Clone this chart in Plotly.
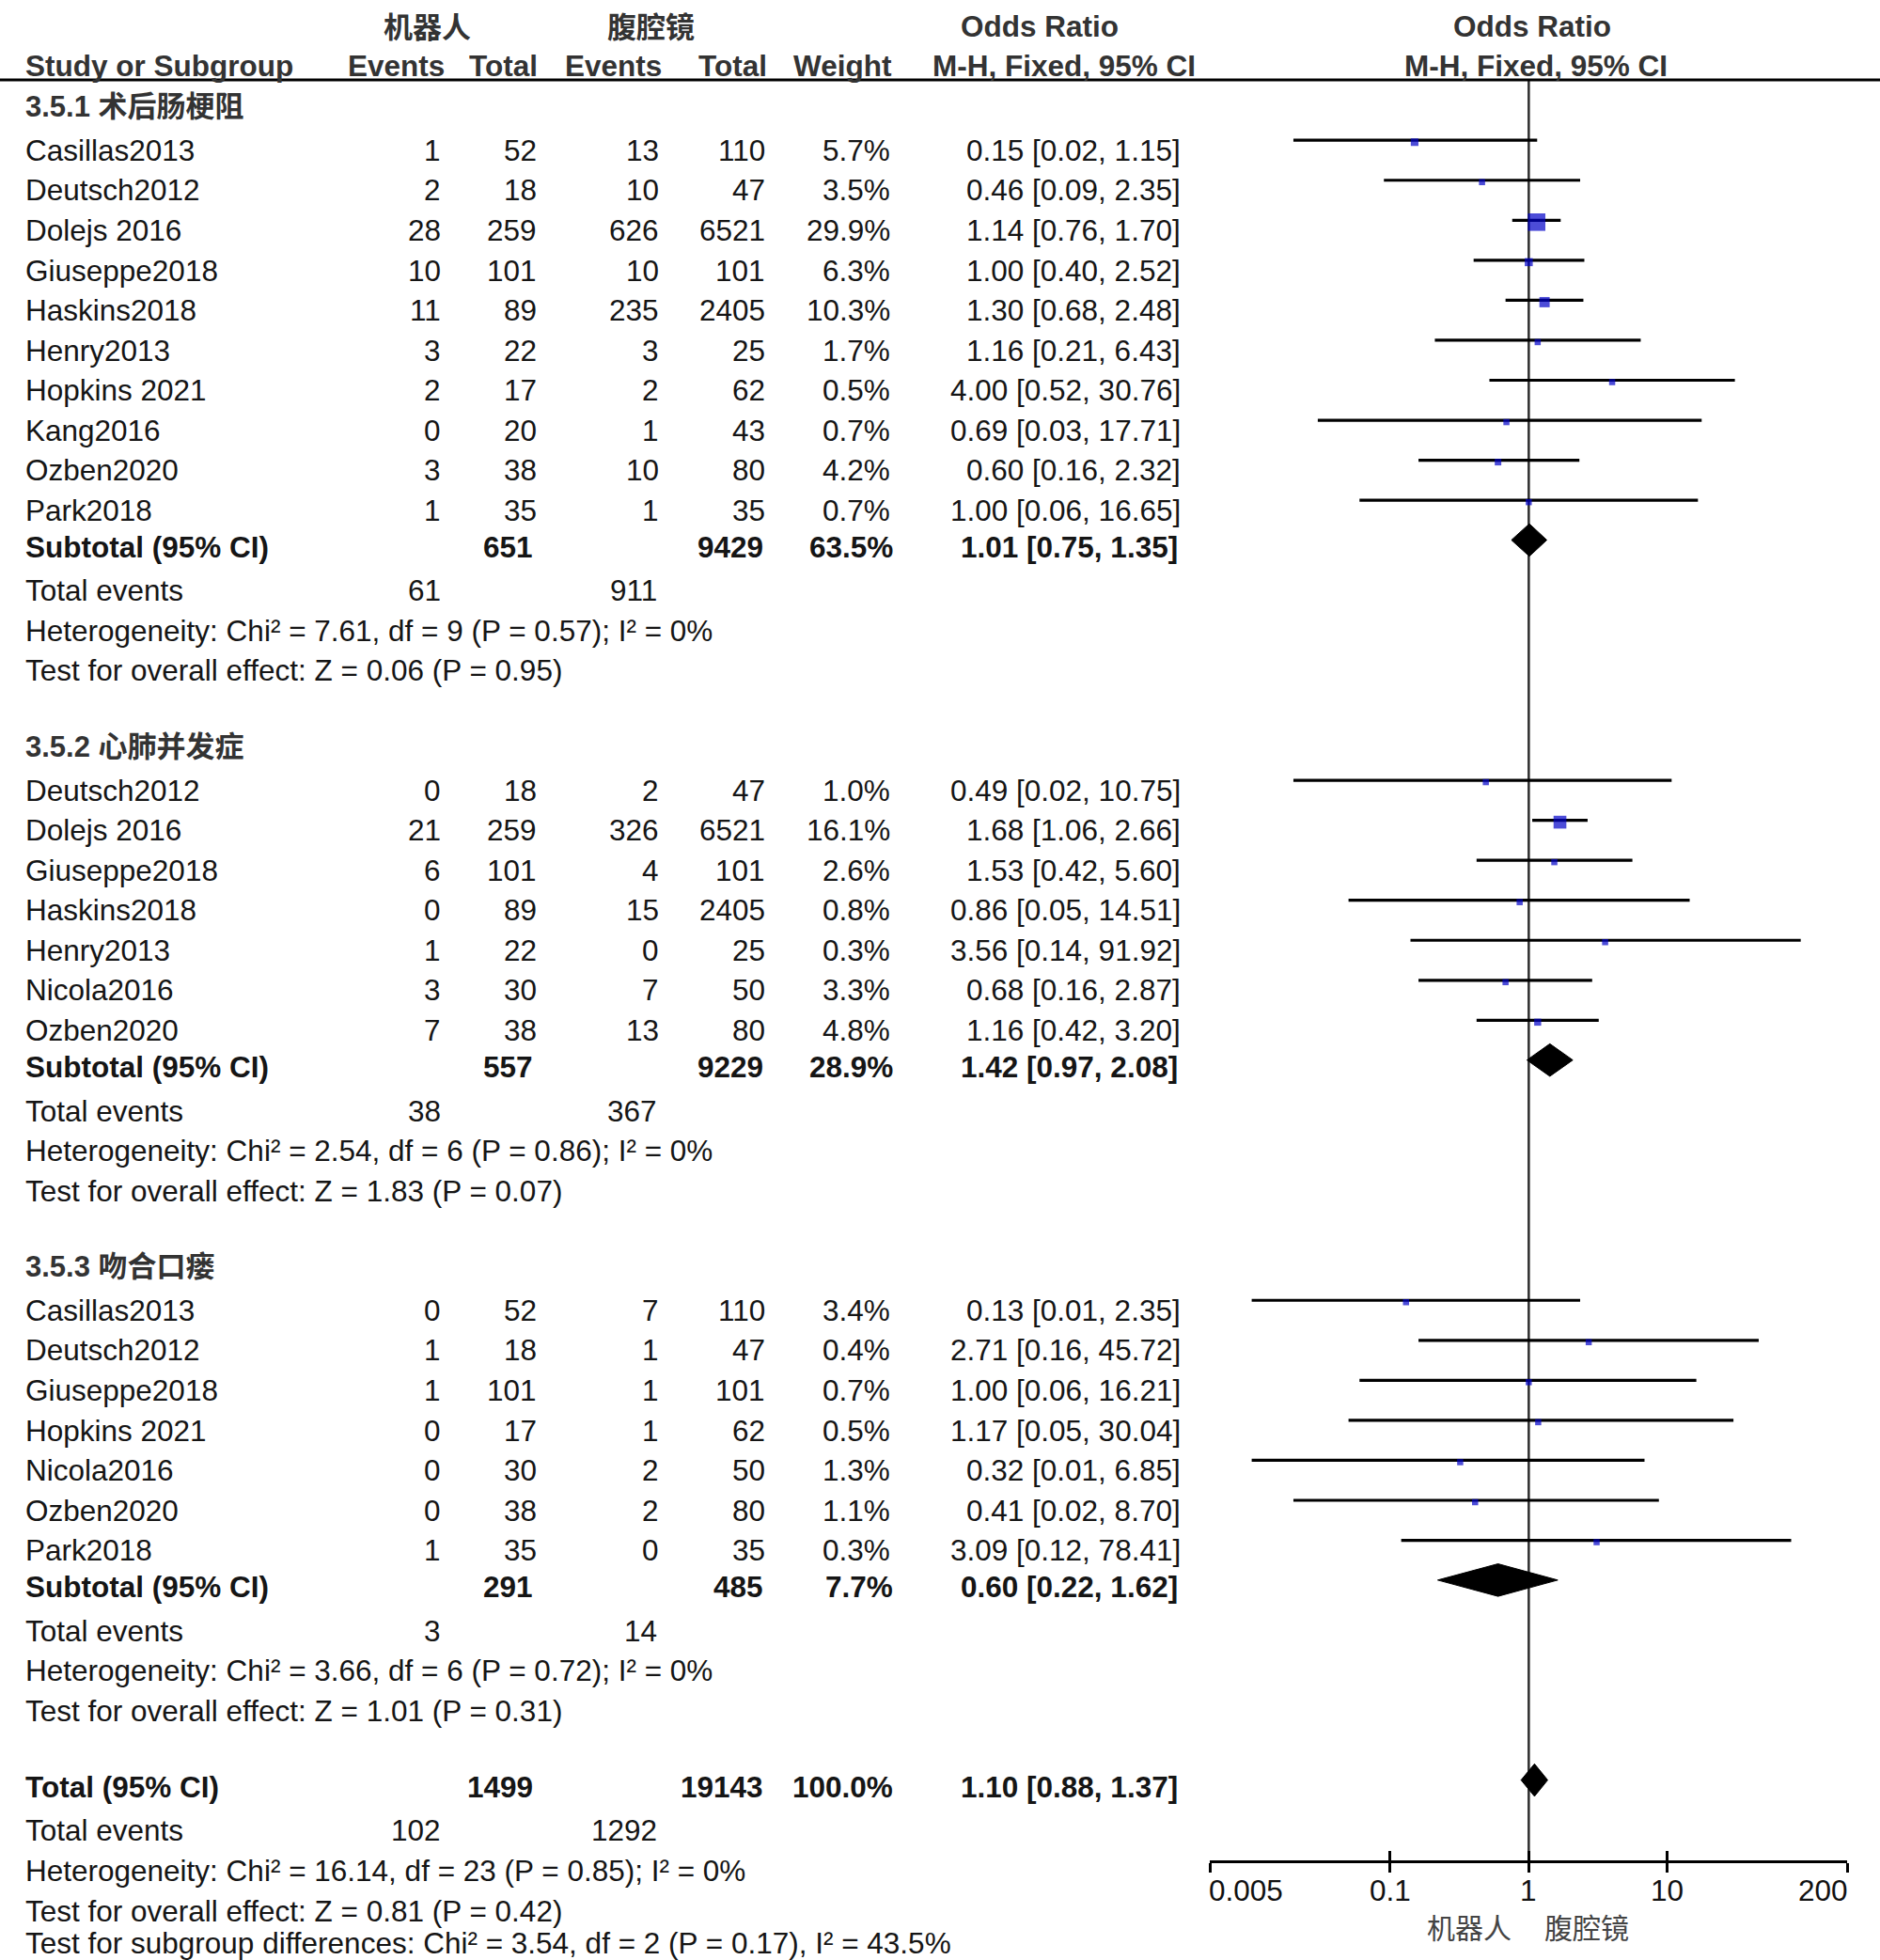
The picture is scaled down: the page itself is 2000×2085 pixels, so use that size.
import math
import plotly.graph_objects as go

# ---------------- data ----------------
group_titles = ["3.5.1 术后肠梗阻", "3.5.2 心肺并发症", "3.5.3 吻合口瘘"]

g1_studies = ["Casillas2013", "Deutsch2012", "Dolejs 2016", "Giuseppe2018", "Haskins2018",
              "Henry2013", "Hopkins 2021", "Kang2016", "Ozben2020", "Park2018"]
g1_robot_events = [1, 2, 28, 10, 11, 3, 2, 0, 3, 1]
g1_robot_total = [52, 18, 259, 101, 89, 22, 17, 20, 38, 35]
g1_lap_events = [13, 10, 626, 10, 235, 3, 2, 1, 10, 1]
g1_lap_total = [110, 47, 6521, 101, 2405, 25, 62, 43, 80, 35]
g1_weight = [5.7, 3.5, 29.9, 6.3, 10.3, 1.7, 0.5, 0.7, 4.2, 0.7]
g1_or = [0.15, 0.46, 1.14, 1.00, 1.30, 1.16, 4.00, 0.69, 0.60, 1.00]
g1_lo = [0.02, 0.09, 0.76, 0.40, 0.68, 0.21, 0.52, 0.03, 0.16, 0.06]
g1_hi = [1.15, 2.35, 1.70, 2.52, 2.48, 6.43, 30.76, 17.71, 2.32, 16.65]

g2_studies = ["Deutsch2012", "Dolejs 2016", "Giuseppe2018", "Haskins2018", "Henry2013",
              "Nicola2016", "Ozben2020"]
g2_robot_events = [0, 21, 6, 0, 1, 3, 7]
g2_robot_total = [18, 259, 101, 89, 22, 30, 38]
g2_lap_events = [2, 326, 4, 15, 0, 7, 13]
g2_lap_total = [47, 6521, 101, 2405, 25, 50, 80]
g2_weight = [1.0, 16.1, 2.6, 0.8, 0.3, 3.3, 4.8]
g2_or = [0.49, 1.68, 1.53, 0.86, 3.56, 0.68, 1.16]
g2_lo = [0.02, 1.06, 0.42, 0.05, 0.14, 0.16, 0.42]
g2_hi = [10.75, 2.66, 5.60, 14.51, 91.92, 2.87, 3.20]

g3_studies = ["Casillas2013", "Deutsch2012", "Giuseppe2018", "Hopkins 2021", "Nicola2016",
              "Ozben2020", "Park2018"]
g3_robot_events = [0, 1, 1, 0, 0, 0, 1]
g3_robot_total = [52, 18, 101, 17, 30, 38, 35]
g3_lap_events = [7, 1, 1, 1, 2, 2, 0]
g3_lap_total = [110, 47, 101, 62, 50, 80, 35]
g3_weight = [3.4, 0.4, 0.7, 0.5, 1.3, 1.1, 0.3]
g3_or = [0.13, 2.71, 1.00, 1.17, 0.32, 0.41, 3.09]
g3_lo = [0.01, 0.16, 0.06, 0.05, 0.01, 0.02, 0.12]
g3_hi = [2.35, 45.72, 16.21, 30.04, 6.85, 8.70, 78.41]

sub_robot_total = [651, 557, 291]
sub_lap_total = [9429, 9229, 485]
sub_weight = [63.5, 28.9, 7.7]
sub_or = [1.01, 1.42, 0.60]
sub_lo = [0.75, 0.97, 0.22]
sub_hi = [1.35, 2.08, 1.62]
sub_robot_events = [61, 38, 3]
sub_lap_events = [911, 367, 14]
sub_chi2 = [7.61, 2.54, 3.66]
sub_df = [9, 6, 6]
sub_het_p = [0.57, 0.86, 0.72]
sub_i2 = [0, 0, 0]
sub_z = [0.06, 1.83, 1.01]
sub_z_p = [0.95, 0.07, 0.31]

total_robot_total = 1499
total_lap_total = 19143
total_weight = 100.0
total_or = 1.10
total_lo = 0.88
total_hi = 1.37
total_robot_events = 102
total_lap_events = 1292
total_chi2 = 16.14
total_df = 23
total_het_p = 0.85
total_i2 = 0
total_z = 0.81
total_z_p = 0.42
subgroup_chi2 = 3.54
subgroup_df = 2
subgroup_p = 0.17
subgroup_i2 = 43.5

tick_values = [0.005, 0.1, 1, 10, 200]
tick_labels = ["0.005", "0.1", "1", "10", "200"]
favours_left = "机器人"
favours_right = "腹腔镜"

groups = [
    (g1_studies, g1_robot_events, g1_robot_total, g1_lap_events, g1_lap_total, g1_weight, g1_or, g1_lo, g1_hi),
    (g2_studies, g2_robot_events, g2_robot_total, g2_lap_events, g2_lap_total, g2_weight, g2_or, g2_lo, g2_hi),
    (g3_studies, g3_robot_events, g3_robot_total, g3_lap_events, g3_lap_total, g3_weight, g3_or, g3_lo, g3_hi),
]

# ---------------- layout constants (design units; 1 unit = 2000/1504 px) ----------------
W, H = 2000, 2085
WD = 1504.0
HD = H * WD / W
FONT = "Liberation Sans, Arial, Noto Sans CJK SC, sans-serif"
CJK = "Noto Sans CJK SC, sans-serif"
FS = 31.5
TXT = "#151515"
HDR = "#333333"

COL_NAME = 19
COL_RE, COL_RT, COL_LE, COL_LT, COL_W, COL_OR = 354, 431, 529, 614, 714, 946
BCOL_RT, BCOL_LT, BCOL_W, BCOL_OR = 428, 612, 716, 944

AXIS_Y = 1488
X0_D, X1_D = 968, 1478

ann = []


def txt(s, xd, yd, anchor="left", bold=False, color=TXT, size=FS, family=FONT):
    ann.append(dict(text=s, x=xd / WD, y=1 - yd / HD, xref="paper", yref="paper",
                    xanchor=anchor, yanchor="middle", showarrow=False,
                    font=dict(size=size, color=color, family=family,
                              weight="bold" if bold else "normal")))


# headers
txt("机器人", 342, 20, "center", True, HDR, 31, CJK)
txt("腹腔镜", 521, 20, "center", True, HDR, 31, CJK)
txt("Odds Ratio", 832, 21, "center", True, HDR)
txt("Odds Ratio", 1226, 21, "center", True, HDR)
txt("Study or Subgroup", COL_NAME, 53, "left", True, HDR)
txt("Events", 357, 53, "right", True, HDR)
txt("Total", 432, 53, "right", True, HDR)
txt("Events", 531, 53, "right", True, HDR)
txt("Total", 615, 53, "right", True, HDR)
txt("Weight", 715, 53, "right", True, HDR)
txt("M-H, Fixed, 95% CI", 851, 53, "center", True, HDR)
txt("M-H, Fixed, 95% CI", 1229, 53, "center", True, HDR)

ci_x, ci_y = [], []
sq_x, sq_y, sq_s = [], [], []
diamonds = []


def fmt_ci(o, l, h):
    return f"{o:.2f} [{l:.2f}, {h:.2f}]"


y = 85.5
for gi, (names, re_, rt, le, lt, wt, orr, lo, hi) in enumerate(groups):
    txt(group_titles[gi], COL_NAME, y, "left", True, HDR, 31)
    y += 34.7
    for i in range(len(names)):
        txt(names[i], COL_NAME, y)
        txt(str(re_[i]), COL_RE, y, "right")
        txt(str(rt[i]), COL_RT, y, "right")
        txt(str(le[i]), COL_LE, y, "right")
        txt(str(lt[i]), COL_LT, y, "right")
        txt(f"{wt[i]:.1f}%", COL_W, y, "right")
        txt(fmt_ci(orr[i], lo[i], hi[i]), COL_OR, y, "right")
        ci_x += [lo[i], hi[i], None]
        ci_y += [y - 8, y - 8, None]
        sq_x.append(orr[i])
        sq_y.append(y - 6.5)
        sq_s.append(max(6.5, 3.4 * math.sqrt(wt[i])))
        if i < len(names) - 1:
            y += 32
    y += 29.3
    txt("Subtotal (95% CI)", COL_NAME, y, "left", True)
    txt(str(sub_robot_total[gi]), BCOL_RT, y, "right", True)
    txt(str(sub_lap_total[gi]), BCOL_LT, y, "right", True)
    txt(f"{sub_weight[gi]:.1f}%", BCOL_W, y, "right", True)
    txt(fmt_ci(sub_or[gi], sub_lo[gi], sub_hi[gi]), BCOL_OR, y, "right", True)
    diamonds.append((sub_lo[gi], sub_or[gi], sub_hi[gi], y - 5.5))
    y += 35
    txt("Total events", COL_NAME, y)
    txt(str(sub_robot_events[gi]), COL_RE, y, "right")
    txt(str(sub_lap_events[gi]), COL_LE - 2, y, "right")
    y += 32
    txt(f"Heterogeneity: Chi² = {sub_chi2[gi]:.2f}, df = {sub_df[gi]} (P = {sub_het_p[gi]:.2f}); I² = {sub_i2[gi]:g}%",
        COL_NAME, y)
    y += 32
    txt(f"Test for overall effect: Z = {sub_z[gi]:.2f} (P = {sub_z_p[gi]:.2f})", COL_NAME, y)
    y += 61

# overall
txt("Total (95% CI)", COL_NAME, y, "left", True)
txt(str(total_robot_total), BCOL_RT, y, "right", True)
txt(str(total_lap_total), BCOL_LT, y, "right", True)
txt(f"{total_weight:.1f}%", BCOL_W, y, "right", True)
txt(fmt_ci(total_or, total_lo, total_hi), BCOL_OR, y, "right", True)
diamonds.append((total_lo, total_or, total_hi, y - 5.5))
y += 35
txt("Total events", COL_NAME, y)
txt(str(total_robot_events), COL_RE, y, "right")
txt(str(total_lap_events), COL_LE - 2, y, "right")
y += 32
txt(f"Heterogeneity: Chi² = {total_chi2:.2f}, df = {total_df} (P = {total_het_p:.2f}); I² = {total_i2:g}%",
    COL_NAME, y)
y += 32
txt(f"Test for overall effect: Z = {total_z:.2f} (P = {total_z_p:.2f})", COL_NAME, y)
y += 26
txt(f"Test for subgroup differences: Chi² = {subgroup_chi2:.2f}, df = {subgroup_df} (P = {subgroup_p:.2f}), I² = {subgroup_i2:g}%",
    COL_NAME, y)

# ---------------- forest traces ----------------
fig = go.Figure()

# line of no effect
fig.add_trace(go.Scatter(x=[1, 1], y=[64, AXIS_Y], mode="lines",
                         line=dict(color="#333333", width=2.6), hoverinfo="skip", showlegend=False))
# confidence intervals
fig.add_trace(go.Scatter(x=ci_x, y=ci_y, mode="lines", line=dict(color="black", width=3.2),
                         hoverinfo="skip", showlegend=False))
# study squares
fig.add_trace(go.Scatter(x=sq_x, y=sq_y, mode="markers",
                         marker=dict(symbol="square", size=sq_s, color="#0000c8", line=dict(width=0)),
                         hoverinfo="skip", showlegend=False))
# diamonds
DH = 13
for lo, est, hi, yc in diamonds:
    fig.add_trace(go.Scatter(x=[lo, est, hi, est, lo], y=[yc, yc - DH, yc, yc + DH, yc],
                             mode="lines", fill="toself", fillcolor="black",
                             line=dict(color="black", width=1), hoverinfo="skip", showlegend=False))
# dummy trace for overlay axis
fig.add_trace(go.Scatter(x=[1], y=[AXIS_Y / 2], xaxis="x2", yaxis="y", mode="markers",
                         marker=dict(opacity=0), hoverinfo="skip", showlegend=False))

# tick labels
for i, (v, lab) in enumerate(zip(tick_values, tick_labels)):
    if i == 0:
        anchor, shift = "left", -3
    elif i == len(tick_values) - 1:
        anchor, shift = "right", 3
    else:
        anchor, shift = "center", 0
    ann.append(dict(text=lab, x=math.log10(v), xref="x", y=1 - 1512 / HD, yref="paper",
                    xanchor=anchor, yanchor="middle", xshift=shift, showarrow=False,
                    font=dict(size=FS, color="#111111", family=FONT)))
ann.append(dict(text=favours_left, x=0, xref="x", y=1 - 1541 / HD, yref="paper",
                xanchor="right", yanchor="middle", xshift=-16, showarrow=False,
                font=dict(size=30, color="#444444", family=CJK)))
ann.append(dict(text=favours_right, x=0, xref="x", y=1 - 1541 / HD, yref="paper",
                xanchor="left", yanchor="middle", xshift=15, showarrow=False,
                font=dict(size=30, color="#444444", family=CJK)))

xr = [math.log10(tick_values[0]), math.log10(tick_values[-1])]
fig.update_layout(
    width=W, height=H, margin=dict(l=0, r=0, t=0, b=0),
    paper_bgcolor="white", plot_bgcolor="white",
    xaxis=dict(type="log", range=xr, domain=[X0_D / WD, X1_D / WD], anchor="y",
               showline=True, linecolor="black", linewidth=3,
               ticks="outside", ticklen=10, tickwidth=3, tickcolor="black",
               tickmode="array", tickvals=tick_values, showticklabels=False,
               showgrid=False, zeroline=False),
    xaxis2=dict(type="log", range=xr, overlaying="x", anchor="y", side="bottom",
                showline=False, ticks="inside", ticklen=10, tickwidth=3, tickcolor="black",
                tickmode="array", tickvals=tick_values, showticklabels=False,
                showgrid=False, zeroline=False),
    yaxis=dict(range=[AXIS_Y, 0], domain=[1 - AXIS_Y / HD, 1], showgrid=False, zeroline=False,
               showline=False, showticklabels=False, ticks=""),
    annotations=ann,
    shapes=[dict(type="line", xref="paper", yref="paper", x0=0, x1=1,
                 y0=1 - 64 / HD, y1=1 - 64 / HD, line=dict(color="black", width=3))],
    showlegend=False,
)

fig.write_html("out.html", config={"displayModeBar": False},
               post_script="document.body.style.margin='0';document.body.style.overflow='hidden';")
